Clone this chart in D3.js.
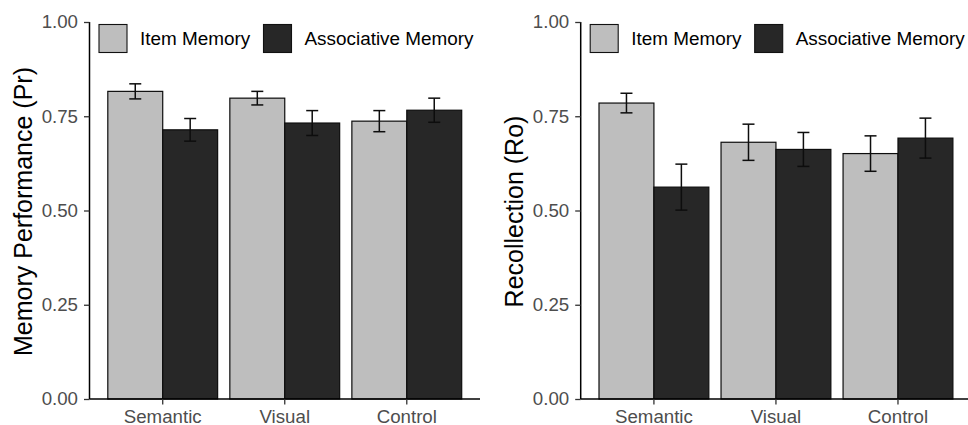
<!DOCTYPE html>
<html>
<head>
<meta charset="utf-8">
<script src="https://cdn.jsdelivr.net/npm/d3@7"></script>
<style>
  html, body { margin: 0; padding: 0; background: #fff; }
  svg { display: block; font-family: "Liberation Sans", Arial, sans-serif; }
</style>
</head>
<body>
<svg id="chart" width="968" height="425"></svg>
<script>
// Conditions and memory measures
const categories = ["Semantic", "Visual", "Control"];
const seriesNames = ["Item Memory", "Associative Memory"];
const yTicks = [0, 0.25, 0.5, 0.75, 1];
const yTickLabels = ["0.00", "0.25", "0.50", "0.75", "1.00"];

// Memory performance (Pr): means and standard errors
const prItem = [0.816, 0.798, 0.737];
const prItemSE = [0.020, 0.018, 0.028];
const prAssoc = [0.714, 0.732, 0.766];
const prAssocSE = [0.030, 0.033, 0.032];

// Recollection (Ro): means and standard errors
const roItem = [0.785, 0.681, 0.651];
const roItemSE = [0.026, 0.048, 0.047];
const roAssoc = [0.562, 0.662, 0.692];
const roAssocSE = [0.061, 0.045, 0.053];

const fills = ["#bebebe", "#272727"];

const svg = d3.select("#chart");

function panel(x0, title, means, ses) {
  const width = 390.5, top = 22, bottom = 399;
  const g = svg.append("g");

  const x = d3.scaleBand().domain(categories).range([x0, x0 + width])
    .paddingInner(0.1).paddingOuter(0.15);
  const xs = d3.scaleBand().domain(seriesNames).range([0, x.bandwidth()]).padding(0);
  const y = d3.scaleLinear().domain([0, 1]).range([bottom, top]);

  const rows = [];
  categories.forEach((c, i) => {
    seriesNames.forEach((s, j) => {
      rows.push({ cat: c, ser: s, j: j, v: means[j][i], se: ses[j][i] });
    });
  });

  // bars
  g.selectAll("rect.bar").data(rows).enter().append("rect")
    .attr("class", "bar")
    .attr("x", d => x(d.cat) + xs(d.ser))
    .attr("width", xs.bandwidth())
    .attr("y", d => y(d.v))
    .attr("height", d => y(0) - y(d.v))
    .attr("fill", d => fills[d.j])
    .attr("stroke", "#0d0d0d")
    .attr("stroke-width", 1.2);

  // error bars
  const capHalf = 6;
  const eb = g.selectAll("g.err").data(rows).enter().append("g")
    .attr("class", "err")
    .attr("stroke", "#0d0d0d")
    .attr("stroke-width", 1.5);
  const cx = d => x(d.cat) + xs(d.ser) + xs.bandwidth() / 2;
  eb.append("line")
    .attr("x1", cx).attr("x2", cx)
    .attr("y1", d => y(d.v + d.se)).attr("y2", d => y(d.v - d.se));
  eb.append("line")
    .attr("x1", d => cx(d) - capHalf).attr("x2", d => cx(d) + capHalf)
    .attr("y1", d => y(d.v + d.se)).attr("y2", d => y(d.v + d.se));
  eb.append("line")
    .attr("x1", d => cx(d) - capHalf).attr("x2", d => cx(d) + capHalf)
    .attr("y1", d => y(d.v - d.se)).attr("y2", d => y(d.v - d.se));

  // y axis
  const yAxis = d3.axisLeft(y).tickValues(yTicks)
    .tickFormat((d, i) => yTickLabels[i]).tickSize(5.5).tickPadding(6);
  const ya = g.append("g").attr("transform", `translate(${x0},0)`).call(yAxis);
  ya.select(".domain").attr("stroke", "#000").attr("stroke-width", 1.5)
    .attr("d", `M0,${top}V${bottom}`);
  ya.selectAll(".tick line").attr("stroke", "#333").attr("stroke-width", 1.3);
  ya.selectAll(".tick text").attr("fill", "#4d4d4d")
    .style("font-size", "18.7px").style("font-family", "Liberation Sans, Arial, sans-serif");

  // x axis
  const xAxis = d3.axisBottom(x).tickSize(5.5).tickPadding(5);
  const xa = g.append("g").attr("transform", `translate(0,${bottom})`).call(xAxis);
  xa.select(".domain").attr("stroke", "#000").attr("stroke-width", 1.5)
    .attr("d", `M${x0},0H${x0 + width}`);
  xa.selectAll(".tick line").attr("stroke", "#333").attr("stroke-width", 1.3);
  xa.selectAll(".tick text").attr("fill", "#4d4d4d")
    .style("font-size", "18.7px").style("font-family", "Liberation Sans, Arial, sans-serif");

  // axis title
  g.append("text")
    .attr("transform", `translate(${x0 - 57.5},${(top + bottom) / 2 + 1}) rotate(-90)`)
    .attr("text-anchor", "middle")
    .style("font-size", "25px")
    .attr("fill", "#000")
    .text(title);

  // legend
  const legX = [x0 + 9.5, x0 + 174];
  const leg = g.selectAll("g.leg").data(seriesNames).enter().append("g")
    .attr("class", "leg")
    .attr("transform", (d, i) => `translate(${legX[i]},24.5)`);
  leg.append("rect")
    .attr("width", 28).attr("height", 28)
    .attr("fill", (d, i) => fills[i])
    .attr("stroke", "#111").attr("stroke-width", 1.1);
  leg.append("text")
    .attr("x", 41).attr("y", 20.5)
    .style("font-size", "18.9px")
    .attr("fill", "#000")
    .text(d => d);
}

panel(89.5, "Memory Performance (Pr)", [prItem, prAssoc], [prItemSE, prAssocSE]);
panel(580.7, "Recollection (Ro)", [roItem, roAssoc], [roItemSE, roAssocSE]);
</script>
</body>
</html>
